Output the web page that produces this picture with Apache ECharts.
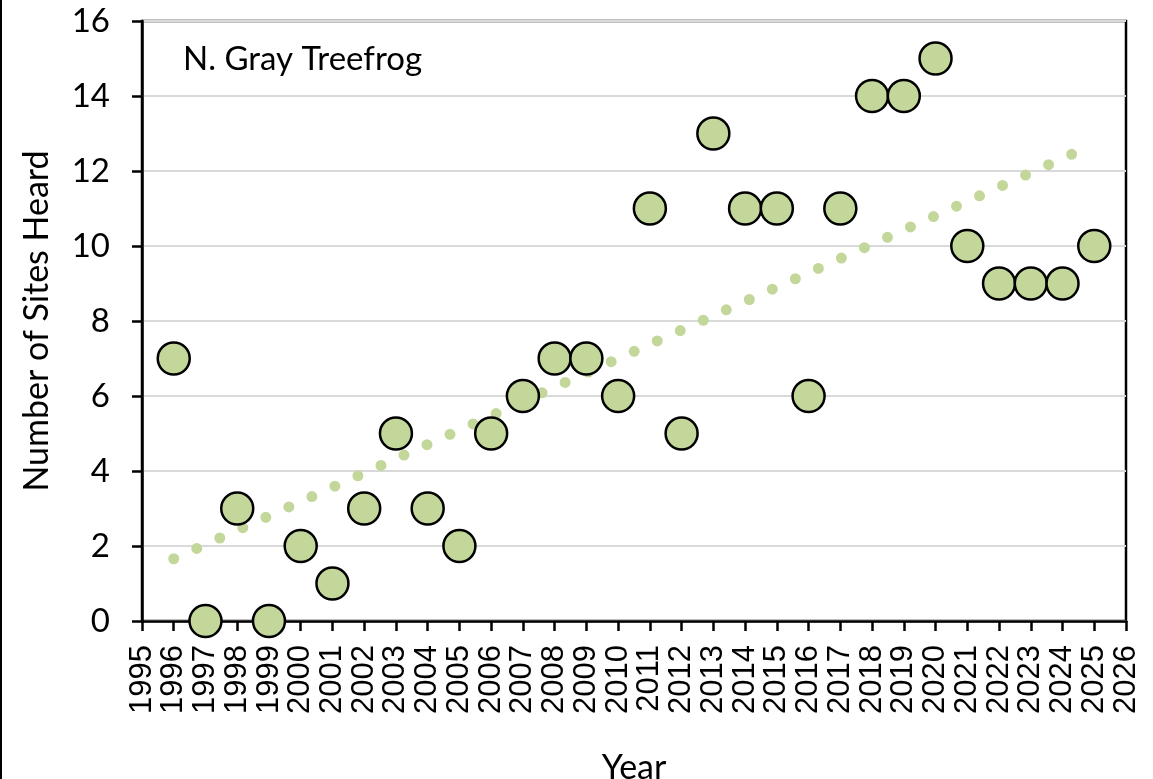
<!DOCTYPE html>
<html>
<head>
<meta charset="utf-8">
<script src="https://cdn.jsdelivr.net/npm/echarts@6/dist/echarts.min.js"></script>
<style>
  html, body { margin: 0; padding: 0; background: #fff; }
  #chart { width: 1153px; height: 779px; }
</style>
</head>
<body>
<div id="chart"></div>
<script>
// survey years and number of sites where the frog was heard
var years = [1996, 1997, 1998, 1999, 2000, 2001, 2002, 2003, 2004, 2005,
             2006, 2007, 2008, 2009, 2010, 2011, 2012, 2013, 2014, 2015,
             2016, 2017, 2018, 2019, 2020, 2021, 2022, 2023, 2024, 2025];
var sites = [7, 0, 3, 0, 2, 1, 3, 5, 3, 2,
             5, 6, 7, 7, 6, 11, 5, 13, 11, 11,
             6, 11, 14, 14, 15, 10, 9, 9, 9, 10];

// linear trendline, start and end
var trendX = [1996, 2024.3];
var trendY = [1.66, 12.45];

var speciesName = 'N. Gray Treefrog';

var pts = [];
for (var i = 0; i < years.length; i++) {
    pts.push([years[i], sites[i]]);
}
var trend = [[trendX[0], trendY[0]], [trendX[1], trendY[1]]];

var green = '#c4d79b';
var labelFont = 'Lato, "Open Sans", sans-serif';

var myChart = echarts.init(document.getElementById('chart'));

var option = {
    animation: false,
    backgroundColor: '#fff',
    grid: {
        left: 142,
        right: 27,
        top: 21,
        bottom: 158,
        outerBoundsMode: 'none',
        containLabel: false,
        show: true,
        borderColor: '#000',
        borderWidth: 2.5
    },
    xAxis: {
        type: 'value',
        min: 1995,
        max: 2026,
        interval: 1,
        name: 'Year',
        nameLocation: 'middle',
        nameGap: 130,
        nameTextStyle: { fontFamily: labelFont, fontSize: 34, color: '#000' },
        axisLine: { show: true, onZero: false, lineStyle: { color: '#000', width: 2.5 } },
        axisTick: { show: true, length: 10, lineStyle: { color: '#000', width: 2.5 } },
        axisLabel: {
            rotate: 90,
            margin: 24,
            fontFamily: '"Liberation Sans", Arial, sans-serif',
            fontSize: 31,
            color: '#000',
            formatter: function (v) { return String(v); }
        },
        splitLine: { show: false }
    },
    yAxis: {
        type: 'value',
        min: 0,
        max: 16,
        interval: 2,
        name: 'Number of Sites Heard',
        nameLocation: 'middle',
        nameGap: 88,
        nameTextStyle: { fontFamily: labelFont, fontSize: 34, color: '#000' },
        axisLine: { show: true, lineStyle: { color: '#000', width: 2.5 } },
        axisTick: { show: true, length: 10, lineStyle: { color: '#000', width: 2.5 } },
        axisLabel: { margin: 32, fontFamily: labelFont, fontSize: 33, color: '#000' },
        splitLine: { show: true, lineStyle: { color: '#d9d9d9', width: 2 } }
    },
    graphic: [
        {
            type: 'text',
            left: 183,
            top: 43,
            style: { text: speciesName, font: '33px ' + labelFont, fill: '#000' }
        },
        {
            type: 'line',
            shape: { x1: 1, y1: 0, x2: 1, y2: 779 },
            style: { stroke: '#000', lineWidth: 2 }
        }
    ],
    series: [
        {
            type: 'line',
            data: trend,
            symbol: 'none',
            silent: true,
            z: 1,
            lineStyle: { color: green, width: 11, type: [0, 25.25], cap: 'round' }
        },
        {
            type: 'scatter',
            data: pts,
            symbol: 'circle',
            symbolSize: 32,
            z: 3,
            itemStyle: { color: green, borderColor: '#000', borderWidth: 2.5, opacity: 1 }
        }
    ]
};

myChart.setOption(option);
</script>
</body>
</html>
